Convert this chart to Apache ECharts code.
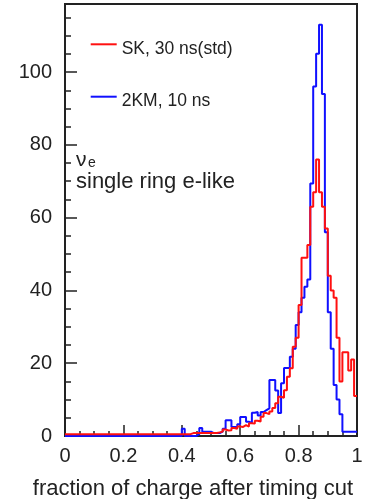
<!DOCTYPE html>
<html><head><meta charset="utf-8">
<script src="https://cdn.jsdelivr.net/npm/echarts@6/dist/echarts.min.js"></script>
<style>html,body{margin:0;padding:0;background:#fff}#c{width:372px;height:499px}</style>
</head><body><div id="c"></div>
<script>
// histogram bins: 100 bins of width 0.01 on [0,1]
const binWidth = 0.01;
const seriesNames = ['SK, 30 ns(std)', '2KM, 10 ns'];
// SK, 30 ns (std)  -- red
const skValues = [
  0.5,0.5,0.5,0.5,0.5,0.5,0.5,0.5,0.5,0.5,
  0.5,0.5,0.5,0.5,0.5,0.5,0.5,0.5,0.5,0.5,
  0.5,0.5,0.5,0.5,0.5,0.5,0.5,0.5,0.5,0.5,
  0.5,0.5,0.5,0.5,0.5,0.5,0.5,0.5,0.5,0.5,
  0.5,0.5,0.5,0.8,0.8,0.8,0.8,0.8,0.8,0.8,
  0.8,0.8,1.0,1.2,1.8,1.5,1.6,2.2,2.0,2.6,
  2.5,3.0,2.6,3.5,3.4,4.2,4.0,5.3,6.3,6.0,
  6.7,7.7,9.0,10.8,10.5,12.6,16.3,18.6,24.5,27,
  36,49,49,52.5,63,67,76,67,63,57,
  44,40,38,27,15,23,23,18,21,11
];
// 2KM, 10 ns -- blue
const kmValues = [
  0,0,0,0,0,0,0,0,0,0,
  0,0,0,0,0,0,0,0,0,0,
  0,0,0,0,0,0,0,0,0,0,
  0,0,0,0,0,0,0,0,0,0,
  2,0,0,0,0,0.5,2.2,1.2,1.2,1.2,
  0.8,0.8,0.8,1.2,2.0,4.3,4.3,2.5,2.5,3.2,
  5.2,5.2,3.9,3.6,6.4,6.6,5.6,6.6,7.1,7.6,
  15.4,15.4,12.5,6.3,14.5,18.7,18.7,21.8,24,30.5,
  34,38,41,43,69.4,96,105,113,94,56,
  34,24,14,10,6,1.2,1.2,1.2,1.2,1.2
];
const xMin = 0, xMax = 1, xMajor = 0.2;
const yMin = 0, yMax = 118.7, yMajor = 20, yMinor = 5;

function toSteps(vals) {
  const pts = vals.map((v, i) => [+(i * binWidth).toFixed(2), v]);
  pts.push([xMax, vals[vals.length - 1]]);
  return pts;
}

const FONT = 'Liberation Sans, Arial, Helvetica, sans-serif';
const INK = '#222';
const chart = echarts.init(document.getElementById('c'), null, {renderer: 'canvas'});
chart.setOption({
  animation: false,
  backgroundColor: '#fff',
  grid: {left: 65, right: 15, top: 4, bottom: 63, containLabel: false, outerBoundsMode: 'none',
    show: true, borderColor: INK, borderWidth: 2, backgroundColor: 'transparent'},
  legend: {
    data: seriesNames,
    orient: 'vertical', left: 90.7, top: 30.8, padding: 0,
    itemGap: 25.4, itemWidth: 26, itemHeight: 2, icon: 'rect',
    formatter: name => '{t|' + name + '}',
    textStyle: {fontFamily: FONT, fontSize: 17.5, color: INK,
      rich: {t: {fontFamily: FONT, fontSize: 17.5, color: INK, lineHeight: 18, padding: [9, 0, 0, 0]}}}
  },
  xAxis: {
    type: 'value', min: xMin, max: xMax, interval: xMajor,
    name: 'fraction of charge after timing cut', nameLocation: 'middle', nameGap: 42,
    nameTextStyle: {fontFamily: FONT, fontSize: 22, color: INK, padding: [0, 36, 0, 0]},
    axisLine: {show: true, lineStyle: {color: INK, width: 2}},
    axisTick: {show: true, inside: true, length: 11, lineStyle: {color: INK, width: 1.5}},
    minorTick: {show: true, splitNumber: 4, length: 5, lineStyle: {color: INK, width: 1.5}},
    axisLabel: {fontFamily: FONT, fontSize: 20, color: INK, margin: 10},
    splitLine: {show: false}, minorSplitLine: {show: false}
  },
  yAxis: [
    {
      type: 'value', min: yMin, max: yMax, interval: yMinor, position: 'left',
      axisLine: {show: true, lineStyle: {color: INK, width: 2}},
      axisTick: {show: true, inside: true, length: 6, lineStyle: {color: INK, width: 1.5}},
      axisLabel: {fontFamily: FONT, fontSize: 20, color: INK, margin: 13, showMaxLabel: false,
        formatter: v => (Math.abs(v % yMajor) < 1e-9 ? String(v) : '')},
      splitLine: {show: false}
    },
    {
      type: 'value', min: yMin, max: yMax, interval: yMajor, position: 'left',
      axisLine: {show: false},
      axisTick: {show: true, inside: true, length: 12, lineStyle: {color: INK, width: 1.5}},
      axisLabel: {show: false}, splitLine: {show: false}
    }
  ],
  graphic: [
    {type: 'text', x: 76, y: 160, style: {text: 'ν', font: '21px ' + FONT, fill: INK, verticalAlign: 'middle'}},
    {type: 'text', x: 88, y: 163, style: {text: 'e', font: '14px ' + FONT, fill: INK, verticalAlign: 'middle'}},
    {type: 'text', x: 76, y: 182, style: {text: 'single ring e-like', font: '22px ' + FONT, fill: INK, verticalAlign: 'middle'}}
  ],
  series: [
    {name: seriesNames[1], type: 'line', step: 'end', data: toSteps(kmValues), showSymbol: false, symbol: 'none',
     color: '#1010ff', lineStyle: {color: '#1010ff', width: 2}, z: 2},
    {name: seriesNames[0], type: 'line', step: 'end', data: toSteps(skValues), showSymbol: false, symbol: 'none',
     color: '#ff1010', lineStyle: {color: '#ff1010', width: 2}, z: 3}
  ]
});
</script></body></html>
